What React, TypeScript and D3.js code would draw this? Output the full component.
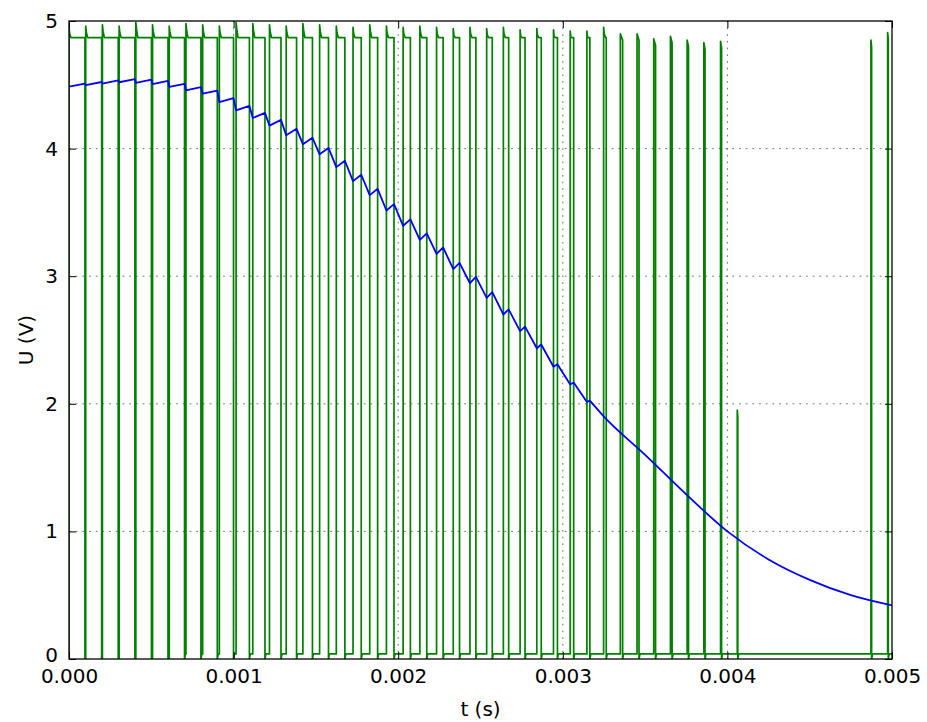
import { useEffect, useRef } from 'react';
import * as d3 from 'd3';

// time in ms (axis labels shown in s)
const pulseStart = [
  0, 0.1015, 0.203, 0.3045, 0.406, 0.5075, 0.609, 0.7105, 0.812, 0.9135,
  1.015, 1.1165, 1.218, 1.3195, 1.421, 1.5225, 1.624, 1.7255, 1.827, 1.9285,
  2.03, 2.1315, 2.233, 2.3345, 2.436, 2.5375, 2.639, 2.7405, 2.842, 2.9435,
  3.045, 3.1465, 3.248, 3.3495, 3.451, 3.5525, 3.654, 3.7555, 3.857, 3.9585,
  4.06, 4.872, 4.9735,
];
const pulseWidth = [
  0.097, 0.097, 0.096, 0.096, 0.095, 0.094, 0.093, 0.091, 0.089, 0.086,
  0.081, 0.074, 0.07, 0.063, 0.058, 0.054, 0.052, 0.05, 0.048, 0.046,
  0.044, 0.042, 0.04, 0.038, 0.036, 0.034, 0.032, 0.03, 0.027, 0.024,
  0.021, 0.018, 0.016, 0.014, 0.012, 0.011, 0.01, 0.008, 0.007, 0.006,
  0.003, 0.004, 0.004,
];
const pulsePeak = [
  4.95, 4.96, 4.97, 4.96, 4.99, 4.97, 4.96, 4.98, 4.97, 4.96,
  4.99, 4.98, 4.97, 4.96, 4.98, 4.97, 4.96, 4.95, 4.97, 4.96,
  4.95, 4.96, 4.95, 4.94, 4.95, 4.94, 4.95, 4.93, 4.94, 4.93,
  4.92, 4.92, 4.95, 4.9, 4.9, 4.86, 4.88, 4.85, 4.83, 4.84,
  1.95, 4.85, 4.91,
];
const plateauLevel = 4.87;
const lowLevel = 0.04;

// blue: value at each pulse start, and rise while the pulse is high
const blueLow = [
  4.485, 4.497, 4.51, 4.52, 4.515, 4.505, 4.483, 4.457, 4.43, 4.365,
  4.3, 4.24, 4.18, 4.105, 4.035, 3.955, 3.855, 3.745, 3.635, 3.515,
  3.395, 3.285, 3.175, 3.055, 2.945, 2.83, 2.7, 2.57, 2.435, 2.29,
  2.152, 2.015,
];
const blueRise = [
  0.025, 0.025, 0.025, 0.025, 0.025, 0.025, 0.025, 0.025, 0.025, 0.03,
  0.035, 0.04, 0.045, 0.05, 0.05, 0.05, 0.05, 0.05, 0.05, 0.05,
  0.05, 0.05, 0.05, 0.05, 0.05, 0.045, 0.04, 0.035, 0.03, 0.02,
  0.015, 0.01,
];
const tailTime = [3.25, 3.5, 3.75, 4.0, 4.25, 4.5, 4.75, 5.0];
const tailValue = [1.9, 1.6, 1.29, 1.0, 0.78, 0.62, 0.5, 0.42];

const xTicks = [0, 1, 2, 3, 4, 5];
const yTicks = [0, 1, 2, 3, 4, 5];

const W = 927;
const H = 722;
const margin = { top: 21, right: 35, bottom: 63, left: 69 };
const FONT = 'DejaVu Sans, sans-serif';

export default function App() {
  const ref = useRef<SVGSVGElement>(null);

  useEffect(() => {
    if (!ref.current) return;
    const svg = d3.select(ref.current);
    svg.selectAll('*').remove();

    const x = d3.scaleLinear().domain([0, 5]).range([margin.left, W - margin.right]);
    const y = d3.scaleLinear().domain([0, 5]).range([H - margin.bottom, margin.top]);

    // grid
    const grid = svg.append('g').attr('stroke', '#000').attr('stroke-width', 0.8)
      .attr('stroke-dasharray', '1.7,5').attr('opacity', 0.7);
    grid.selectAll('line.gx').data(xTicks.slice(1, -1)).join('line')
      .attr('x1', d => x(d)).attr('x2', d => x(d))
      .attr('y1', y(0)).attr('y2', y(5));
    grid.selectAll('line.gy').data(yTicks.slice(1, -1)).join('line')
      .attr('x1', x(0)).attr('x2', x(5))
      .attr('y1', d => y(d)).attr('y2', d => y(d));

    // blue curve: sawtooth part then smooth tail
    const blueTeeth: [number, number][] = [];
    blueLow.forEach((v, i) => {
      blueTeeth.push([pulseStart[i], v]);
      blueTeeth.push([pulseStart[i] + pulseWidth[i], v + blueRise[i]]);
    });
    const blueTail: [number, number][] = [blueTeeth[blueTeeth.length - 1]];
    tailTime.forEach((t, i) => blueTail.push([t, tailValue[i]]));

    // green pulse train
    const green: [number, number][] = [[0, 0]];
    pulseStart.forEach((t, i) => {
      const w = pulseWidth[i];
      const end = t + w;
      const next = i + 1 < pulseStart.length ? pulseStart[i + 1] : 5;
      const peak = pulsePeak[i];
      const level = Math.min(plateauLevel, peak - 0.05);
      green.push([t, peak]);
      if (w > 0.014) {
        green.push([t + 0.004, peak - 0.05]);
        green.push([t + 0.012, level]);
      }
      green.push([end, level]);
      green.push([end, 0]);
      if (next - end > 0.008) {
        green.push([end + 0.006, lowLevel]);
        green.push([next, lowLevel]);
      } else {
        green.push([next, 0]);
      }
    });

    svg.append('clipPath').attr('id', 'plot-clip').append('rect')
      .attr('x', x(0)).attr('y', y(5)).attr('width', x(5) - x(0)).attr('height', y(0) - y(5));

    const plot = svg.append('g').attr('clip-path', 'url(#plot-clip)');

    plot.append('path').datum(green)
      .attr('d', d3.line<[number, number]>().x(d => x(d[0])).y(d => y(d[1])))
      .attr('fill', 'none').attr('stroke', '#008000').attr('stroke-width', 1.7)
      .attr('stroke-linejoin', 'round');

    plot.append('path').datum(blueTeeth)
      .attr('d', d3.line<[number, number]>().x(d => x(d[0])).y(d => y(d[1])))
      .attr('fill', 'none').attr('stroke', '#0000ff').attr('stroke-width', 1.8)
      .attr('stroke-linejoin', 'round');
    plot.append('path').datum(blueTail)
      .attr('d', d3.line<[number, number]>().x(d => x(d[0])).y(d => y(d[1])).curve(d3.curveMonotoneX))
      .attr('fill', 'none').attr('stroke', '#0000ff').attr('stroke-width', 1.8);

    // axes, ticks pointing inward
    const fmtX = (d: d3.NumberValue) => (Number(d) / 1000).toFixed(3);
    const bottom = svg.append('g').attr('transform', `translate(0,${y(0)})`)
      .call(d3.axisBottom(x).tickValues(xTicks).tickSizeInner(-7).tickSizeOuter(0).tickPadding(10).tickFormat(fmtX));
    const left = svg.append('g').attr('transform', `translate(${x(0)},0)`)
      .call(d3.axisLeft(y).tickValues(yTicks).tickSizeInner(-7).tickSizeOuter(0).tickPadding(11).tickFormat(d3.format('d')));
    const top = svg.append('g').attr('transform', `translate(0,${y(5)})`)
      .call(d3.axisTop(x).tickValues(xTicks).tickSizeInner(-7).tickSizeOuter(0).tickFormat(() => ''));
    const right = svg.append('g').attr('transform', `translate(${x(5)},0)`)
      .call(d3.axisRight(y).tickValues(yTicks).tickSizeInner(-7).tickSizeOuter(0).tickFormat(() => ''));

    [bottom, left, top, right].forEach(g => {
      g.select('.domain').remove();
      g.selectAll('.tick line').attr('stroke', '#000').attr('stroke-width', 1);
      g.selectAll('.tick text').attr('font-family', FONT).attr('font-size', 20).attr('fill', '#000');
    });
    // lift the "0" on the y axis a little so it clears "0.000"
    left.selectAll<SVGTextElement, number>('.tick text').filter(d => d === 0).attr('dy', '0.1em');

    svg.append('rect')
      .attr('x', x(0)).attr('y', y(5)).attr('width', x(5) - x(0)).attr('height', y(0) - y(5))
      .attr('fill', 'none').attr('stroke', '#000').attr('stroke-width', 1.3);

    svg.append('text')
      .attr('x', (x(0) + x(5)) / 2).attr('y', 716)
      .attr('text-anchor', 'middle').attr('font-family', FONT).attr('font-size', 20)
      .text('t (s)');
    svg.append('text')
      .attr('transform', `translate(33,${(y(0) + y(5)) / 2}) rotate(-90)`)
      .attr('text-anchor', 'middle').attr('font-family', FONT).attr('font-size', 20)
      .text('U (V)');
  }, []);

  return (
    <svg ref={ref} width={W} height={H}
      style={{ position: 'absolute', left: 0, top: 0, background: '#fff' }} />
  );
}
